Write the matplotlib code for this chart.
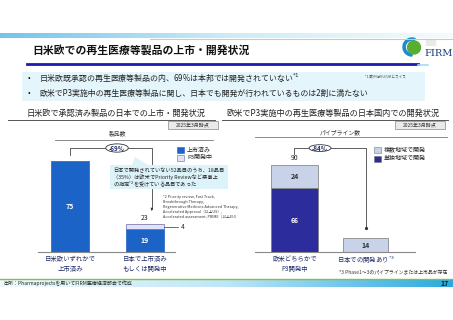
import numpy as np
import matplotlib
matplotlib.use("Agg")
import matplotlib.pyplot as plt
from matplotlib.patches import Rectangle, Ellipse, Polygon, Wedge, Circle
from matplotlib.colors import LinearSegmentedColormap

plt.rcParams['font.family'] = ['Noto Sans CJK JP', 'DejaVu Sans']

W, H = 453, 320

# ---- data ----
left_categories = ['日米欧いずれかで\n上市済み', '日本で上市済み\nもしくは開発中']
left_launched = [75, 19]
left_p3 = [0, 4]
left_drop = '-69%'

right_categories = ['欧米どちらかで\nP3開発中', '日本での開発あり$^{*3}$']
right_single = [66, 0]
right_multi = [24, 0]
right_japan = [0, 14]
right_drop = '-84%'

BLUE = '#1B63C6'
LAVENDER = '#E2E2F8'
NAVY = '#2C2C9C'
GREYBLUE = '#C8D2E9'
TXT = '#1F2D6B'


def rect(x0, y0, x1, y1):
    return [x0 / W, 1 - y1 / H, (x1 - x0) / W, (y1 - y0) / H]


fig = plt.figure(figsize=(W / 100, H / 100), dpi=100)

# background layer in pixel coordinates
bg = fig.add_axes([0, 0, 1, 1], zorder=0)
bg.axis('off')

grad = np.linspace(0, 1, 256).reshape(1, -1)
top_cmap = LinearSegmentedColormap.from_list('t', ['#74C4EA', '#CDEBF7', '#F4FBFD'])
bg.imshow(grad, cmap=top_cmap, extent=(0, 453, 38, 33), aspect='auto')
bg.plot([150, 453], [38.5, 38.5], color='#B6DD8E', lw=0.8)

# title
bg.text(32, 50, '日米欧での再生医療等製品の上市・開発状況', fontsize=7.8,
        fontweight='bold', va='center', ha='left', color='#111111')
bg.plot([27, 418], [64, 64], color='#1B1BB0', lw=2)
bg.plot([418, 428], [64.5, 64.5], color='#9FDDF3', lw=1.2)

# logo
bg.add_patch(Wedge((412, 47), 9, 90, 290, width=2.2, color='#1D8AD4'))
bg.add_patch(Circle((414, 47.5), 6.5, color='#57AE2F'))
bg.text(424, 53, 'FIRM', fontsize=7, family='DejaVu Serif', color='#1E3A7A',
        va='center', ha='left')
for yy in (41, 43, 45):
    bg.plot([426, 436], [yy, yy], color='#9A9A9A', lw=0.3)

# bullet box
bg.add_patch(Rectangle((22, 72), 403, 29, color='#E4F6FB', lw=0))
bg.text(28, 78, '•', fontsize=5.5, va='center')
bg.text(39, 78, '日米欧既承認の再生医療等製品の内、69%は本邦では開発されていない$^{*1}$',
        fontsize=5.7, va='center', color='#222222')
bg.text(28, 93, '•', fontsize=5.5, va='center')
bg.text(39, 93, '欧米でP3実施中の再生医療等製品に関し、日本でも開発が行われているものは2割に満たない',
        fontsize=5.7, va='center', color='#222222')
bg.text(365, 76, '*1 欧州はEU/UKとスイス', fontsize=2.6, va='center', color='#444444')

# section headings
bg.text(27, 113, '日米欧で承認済み製品の日本での上市・開発状況', fontsize=5.9,
        va='center', color='#222222')
bg.plot([8, 215], [119.5, 119.5], color='#555555', lw=0.7)
bg.text(226, 113, '欧米でP3実施中の再生医療等製品の日本国内での開発状況', fontsize=5.9,
        va='center', color='#222222')
bg.plot([222, 448], [119.5, 119.5], color='#555555', lw=0.7)

for x0 in (168, 395):
    bg.add_patch(Rectangle((x0, 121), 50, 8, facecolor='#EAEAEA',
                           edgecolor='#888888', lw=0.5))
    bg.text(x0 + 25, 125, '2025年3月時点', fontsize=3.6, ha='center', va='center',
            color='#333333')

bg.text(118, 133, '製品数', fontsize=4.2, ha='center', va='center', color='#333333')
bg.plot([55, 213], [140, 140], color='#777777', lw=0.6)
bg.text(340, 132, 'パイプライン数', fontsize=4.2, ha='center', va='center', color='#333333')
bg.plot([255, 447], [137, 137], color='#777777', lw=0.6)

# footer
bg.plot([0, 453], [278.5, 278.5], color='#7DC242', lw=1)
foot_cmap = LinearSegmentedColormap.from_list('f', ['#F2FAFD', '#BFE6F6', '#2AA9E0'])
bg.imshow(grad, cmap=foot_cmap, extent=(0, 453, 287, 279.5), aspect='auto')
bg.text(3, 283.5, '出所：Pharmaprojectsを用いてFIRM医療経済部会で作成', fontsize=3.6,
        va='center', color='#222222')
bg.text(449, 283.5, '17', fontsize=5, fontweight='bold', ha='right', va='center',
        color='#1A1A1A')

bg.set_xlim(0, W)
bg.set_ylim(H, 0)

# ---- left chart ----
axl = fig.add_axes(rect(38, 140, 175, 252), zorder=2)
axl.patch.set_alpha(0)
xl = np.arange(len(left_categories))
axl.bar(xl, left_launched, width=0.51, color=BLUE, edgecolor=BLUE, lw=0.5)
axl.bar(xl, left_p3, width=0.51, bottom=left_launched, color=LAVENDER,
        edgecolor='#6A6AA8', lw=0.5)
axl.set_xlim(-0.4267, 1.4)
axl.set_ylim(0, 92.3)
for s in ('top', 'right', 'left'):
    axl.spines[s].set_visible(False)
axl.spines['bottom'].set_color('#888888')
axl.spines['bottom'].set_linewidth(0.8)
axl.set_yticks([])
axl.set_xticks(xl, left_categories, fontsize=4.6, color=TXT, linespacing=1.4)
axl.tick_params(axis='x', length=0, pad=2)

for i, v in enumerate(left_launched):
    axl.text(i, v / 2, str(v), color='white', fontsize=5, fontweight='bold',
             ha='center', va='center')
left_total = [a + b for a, b in zip(left_launched, left_p3)]
axl.text(1, left_total[1] + 5, str(left_total[1]), fontsize=5, ha='center',
         va='center', color='#222222')
mid4 = left_launched[1] + left_p3[1] / 2
axl.plot([1.25, 1.44], [mid4, mid4], color='#333333', lw=0.5, clip_on=False)
axl.text(1.48, mid4, str(left_p3[1]), fontsize=4.6, va='center', color='#222222')

# bracket
bt = 85.7
axl.plot([0, 0, 1.09, 1.09], [80, bt, bt, 35.5], color='#444444', lw=0.6,
         clip_on=False)
axl.annotate('', xy=(1.09, 34.2), xytext=(1.09, 37), clip_on=False,
             arrowprops=dict(arrowstyle='-|>', color='#333333', lw=0.5,
                             mutation_scale=3))
axl.add_patch(Ellipse((0.627, bt), 0.3, 6.8, facecolor='white', edgecolor='#333333',
                      lw=0.6, clip_on=False, zorder=3))
axl.text(0.627, bt, left_drop, fontsize=4.5, fontweight='bold', color=TXT,
         ha='center', va='center', zorder=4)

# legend left
for k, (c, ec, lab) in enumerate([(BLUE, BLUE, '上市済み'),
                                   (LAVENDER, '#6A6AA8', 'P3開発中')]):
    yy = 149.5 + 8 * k
    bg.add_patch(Rectangle((177, yy - 3), 7, 6, facecolor=c, edgecolor=ec, lw=0.4))
    bg.text(187, yy, lab, fontsize=4.3, va='center', color='#222222')

# ---- right chart ----
axr = fig.add_axes(rect(255, 136, 415, 252), zorder=2)
axr.patch.set_alpha(0)
xr = np.arange(len(right_categories))
axr.bar(xr, right_single, width=0.66, color=NAVY, edgecolor='#777777', lw=0.5)
axr.bar(xr, right_multi, width=0.66, bottom=right_single, color=GREYBLUE,
        edgecolor='#777777', lw=0.5)
axr.bar(xr[1:], right_japan[1:], width=0.64, color=GREYBLUE, edgecolor='#777777', lw=0.5)
axr.set_xlim(-0.556, 1.697)
axr.set_ylim(0, 120)
for s in ('top', 'right', 'left'):
    axr.spines[s].set_visible(False)
axr.spines['bottom'].set_color('#888888')
axr.spines['bottom'].set_linewidth(0.8)
axr.set_yticks([])
axr.set_xticks(xr, right_categories, fontsize=4.6, color=TXT, linespacing=1.4)
axr.tick_params(axis='x', length=0, pad=2)

axr.text(0, right_single[0] / 2, str(right_single[0]), color='white', fontsize=5,
         fontweight='bold', ha='center', va='center')
axr.text(0, right_single[0] + right_multi[0] / 2, str(right_multi[0]), color='#333333',
         fontsize=5, fontweight='bold', ha='center', va='center')
axr.text(1, right_japan[1] / 2, str(right_japan[1]), color='#333333', fontsize=5,
         fontweight='bold', ha='center', va='center')
right_total = right_single[0] + right_multi[0]
axr.text(0, right_total + 7, str(right_total), fontsize=5, ha='center', va='center',
         color='#222222')

bt = 107.5
axr.plot([0, 0, 1.0, 1.0], [101, bt, bt, 25], color='#444444', lw=0.6, clip_on=False)
axr.plot([1.0], [25], marker='o', ms=1.3, color='#333333', clip_on=False)
axr.add_patch(Ellipse((0.36, bt), 0.31, 7, facecolor='white', edgecolor='#333333',
                      lw=0.6, clip_on=False, zorder=3))
axr.text(0.36, bt, right_drop, fontsize=4.5, fontweight='bold', color=TXT,
         ha='center', va='center', zorder=4)

for k, (c, lab) in enumerate([(GREYBLUE, '複数地域で開発'), (NAVY, '単独地域で開発')]):
    yy = 149.5 + 9 * k
    bg.add_patch(Rectangle((374, yy - 3), 7, 6, facecolor=c, edgecolor='#777777', lw=0.4))
    bg.text(384, yy, lab, fontsize=4.3, va='center', color='#222222')

# ---- foreground: callout and notes ----
fg = fig.add_axes([0, 0, 1, 1], zorder=5)
fg.axis('off')
fg.patch.set_alpha(0)
fg.add_patch(Polygon([(132, 165), (148, 165), (135, 157)], closed=True,
                     facecolor='#DDF3FA', edgecolor='none'))
fg.add_patch(Rectangle((110, 165), 118, 24, facecolor='#DDF3FA', edgecolor='none'))
fg.text(113, 171, '日本で開発されていない52品目のうち、18品目', fontsize=3.75,
        va='center', color='#222222')
fg.text(113, 177.5, '（35%）は欧米でPriority Reviewなど薬事上', fontsize=3.75,
        va='center', color='#222222')
fg.text(113, 184, 'の指定$^{*2}$を受けている品目であった', fontsize=3.75,
        va='center', color='#222222')
fg.text(163, 207, '*2 Priority review, Fast Track,\nBreakthrough Therapy,\n'
        'Regenerative Medicine Advanced Therapy,\nAccelerated Approval（以上US）,\n'
        'Accelerated assessment, PRIME（以上EU）', fontsize=2.7, va='center',
        ha='left', color='#333333', linespacing=1.25)
fg.text(447, 273, '*3 Phase1～3のパイプラインまたは上市品が存在', fontsize=3.5,
        ha='right', va='center', color='#333333')
fg.set_xlim(0, W)
fg.set_ylim(H, 0)

fig.savefig('out.png', dpi=100)
